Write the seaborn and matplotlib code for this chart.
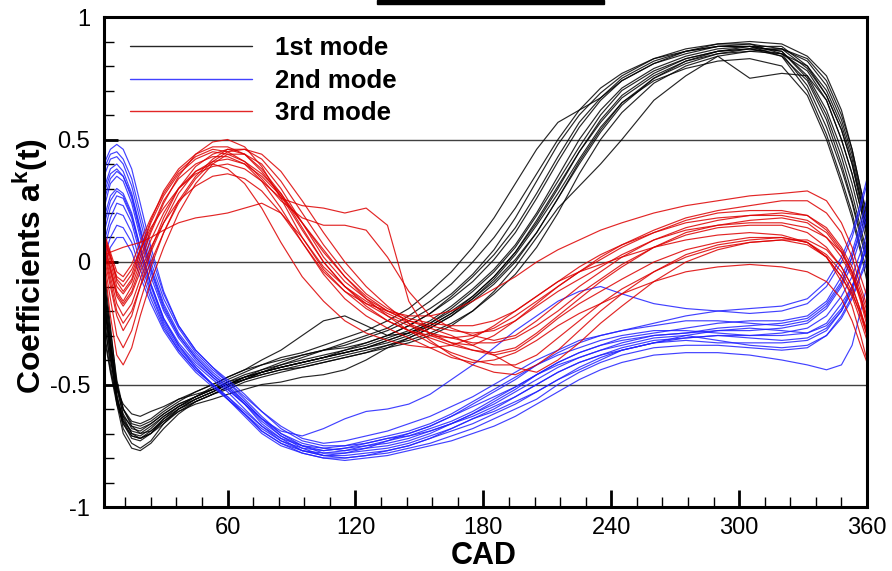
import numpy as np
import pandas as pd
import matplotlib
matplotlib.use('Agg')
import matplotlib.pyplot as plt
import seaborn as sns
from matplotlib.patches import Rectangle
from matplotlib.ticker import MultipleLocator, FixedLocator, FixedFormatter

# ------------------------------------------------------------
# Data - POD temporal coefficients
# ------------------------------------------------------------
cad = [2, 5, 8, 11, 15, 19, 24, 30, 37, 45, 53, 60, 68, 76, 85, 95, 105, 115, 125, 135,
       145, 155, 165, 175, 185, 195, 205, 215, 225, 235, 245, 260, 275, 290, 305, 320,
       332, 341, 348, 353, 357, 360]

mode_labels = ['1st mode', '2nd mode', '3rd mode']

mode1_cycles = [
    [-0.15, -0.35, -0.52, -0.62, -0.68, -0.69, -0.66, -0.62, -0.58, -0.55, -0.52, -0.49, -0.46, -0.44, -0.42, -0.40, -0.38, -0.36, -0.34, -0.31, -0.28, -0.24, -0.18, -0.11, -0.03, 0.07, 0.20, 0.35, 0.50, 0.62, 0.71, 0.79, 0.84, 0.87, 0.88, 0.86, 0.76, 0.62, 0.46, 0.32, 0.18, 0.08],
    [-0.05, -0.30, -0.55, -0.68, -0.74, -0.76, -0.73, -0.66, -0.60, -0.56, -0.53, -0.50, -0.47, -0.44, -0.41, -0.38, -0.36, -0.33, -0.30, -0.27, -0.22, -0.16, -0.09, 0.00, 0.10, 0.22, 0.36, 0.50, 0.62, 0.71, 0.77, 0.83, 0.86, 0.89, 0.89, 0.85, 0.72, 0.55, 0.38, 0.24, 0.10, 0.00],
    [-0.25, -0.40, -0.52, -0.58, -0.62, -0.63, -0.61, -0.59, -0.56, -0.54, -0.52, -0.50, -0.48, -0.46, -0.44, -0.42, -0.40, -0.38, -0.36, -0.34, -0.32, -0.29, -0.25, -0.20, -0.13, -0.05, 0.06, 0.20, 0.36, 0.50, 0.61, 0.73, 0.80, 0.84, 0.86, 0.87, 0.82, 0.72, 0.58, 0.44, 0.28, 0.16],
    [-0.20, -0.38, -0.55, -0.64, -0.70, -0.71, -0.68, -0.63, -0.59, -0.56, -0.53, -0.50, -0.48, -0.46, -0.44, -0.43, -0.41, -0.39, -0.37, -0.35, -0.33, -0.30, -0.26, -0.20, -0.12, -0.02, 0.10, 0.22, 0.31, 0.40, 0.50, 0.66, 0.76, 0.84, 0.75, 0.77, 0.76, 0.66, 0.50, 0.36, 0.22, 0.12],
    [-0.10, -0.32, -0.50, -0.60, -0.66, -0.67, -0.65, -0.61, -0.57, -0.53, -0.50, -0.47, -0.44, -0.40, -0.36, -0.30, -0.24, -0.22, -0.26, -0.30, -0.29, -0.26, -0.21, -0.14, -0.06, 0.04, 0.16, 0.30, 0.45, 0.58, 0.68, 0.77, 0.83, 0.86, 0.87, 0.84, 0.74, 0.58, 0.40, 0.25, 0.12, 0.02],
    [-0.30, -0.45, -0.58, -0.66, -0.71, -0.72, -0.70, -0.66, -0.61, -0.57, -0.54, -0.51, -0.48, -0.45, -0.42, -0.39, -0.36, -0.34, -0.31, -0.28, -0.24, -0.19, -0.13, -0.05, 0.05, 0.18, 0.33, 0.48, 0.60, 0.69, 0.76, 0.83, 0.87, 0.89, 0.90, 0.89, 0.84, 0.76, 0.62, 0.46, 0.30, 0.20],
    [-0.12, -0.36, -0.58, -0.70, -0.76, -0.77, -0.74, -0.68, -0.62, -0.57, -0.54, -0.51, -0.48, -0.45, -0.43, -0.41, -0.39, -0.37, -0.35, -0.32, -0.29, -0.25, -0.19, -0.12, -0.04, 0.06, 0.19, 0.33, 0.47, 0.60, 0.70, 0.78, 0.83, 0.86, 0.87, 0.85, 0.78, 0.66, 0.50, 0.36, 0.22, 0.10],
    [-0.18, -0.34, -0.50, -0.60, -0.65, -0.66, -0.64, -0.60, -0.56, -0.53, -0.50, -0.47, -0.44, -0.42, -0.39, -0.37, -0.34, -0.31, -0.28, -0.24, -0.19, -0.12, -0.04, 0.06, 0.18, 0.32, 0.46, 0.57, 0.62, 0.67, 0.74, 0.81, 0.85, 0.88, 0.88, 0.84, 0.70, 0.52, 0.34, 0.20, 0.06, -0.04],
    [-0.22, -0.42, -0.57, -0.65, -0.69, -0.70, -0.67, -0.63, -0.59, -0.55, -0.52, -0.49, -0.47, -0.45, -0.43, -0.41, -0.39, -0.37, -0.35, -0.33, -0.30, -0.26, -0.21, -0.15, -0.07, 0.03, 0.15, 0.28, 0.42, 0.55, 0.65, 0.74, 0.79, 0.82, 0.83, 0.80, 0.68, 0.50, 0.32, 0.18, 0.04, -0.08],
    [-0.08, -0.28, -0.48, -0.60, -0.67, -0.70, -0.69, -0.65, -0.61, -0.58, -0.56, -0.54, -0.52, -0.50, -0.49, -0.47, -0.46, -0.44, -0.40, -0.35, -0.31, -0.27, -0.22, -0.15, -0.08, 0.01, 0.12, 0.26, 0.40, 0.53, 0.64, 0.75, 0.82, 0.86, 0.88, 0.88, 0.80, 0.68, 0.54, 0.40, 0.26, 0.14],
    [-0.02, -0.26, -0.50, -0.63, -0.70, -0.72, -0.70, -0.65, -0.60, -0.56, -0.53, -0.50, -0.47, -0.45, -0.43, -0.41, -0.39, -0.36, -0.33, -0.30, -0.26, -0.21, -0.15, -0.08, 0.01, 0.12, 0.26, 0.41, 0.55, 0.66, 0.74, 0.81, 0.86, 0.88, 0.89, 0.87, 0.79, 0.68, 0.54, 0.40, 0.24, 0.12],
    [-0.28, -0.44, -0.56, -0.63, -0.67, -0.68, -0.66, -0.62, -0.58, -0.55, -0.52, -0.50, -0.47, -0.45, -0.43, -0.41, -0.39, -0.37, -0.35, -0.32, -0.29, -0.25, -0.20, -0.14, -0.06, 0.04, 0.17, 0.31, 0.45, 0.57, 0.67, 0.76, 0.82, 0.85, 0.86, 0.85, 0.80, 0.70, 0.56, 0.42, 0.26, 0.14],
    [-0.16, -0.38, -0.56, -0.66, -0.72, -0.73, -0.70, -0.64, -0.59, -0.55, -0.51, -0.48, -0.45, -0.42, -0.40, -0.38, -0.36, -0.35, -0.33, -0.30, -0.26, -0.21, -0.14, -0.06, 0.03, 0.14, 0.28, 0.43, 0.57, 0.67, 0.75, 0.82, 0.86, 0.88, 0.88, 0.86, 0.75, 0.60, 0.43, 0.28, 0.14, 0.04],
    [-0.10, -0.33, -0.54, -0.65, -0.71, -0.72, -0.69, -0.64, -0.60, -0.57, -0.54, -0.52, -0.49, -0.47, -0.45, -0.43, -0.41, -0.39, -0.37, -0.34, -0.31, -0.27, -0.22, -0.16, -0.09, 0.00, 0.12, 0.26, 0.41, 0.54, 0.65, 0.75, 0.81, 0.85, 0.87, 0.87, 0.83, 0.74, 0.60, 0.46, 0.30, 0.18],
]

mode2_cycles = [
    [0.40, 0.46, 0.48, 0.46, 0.38, 0.24, 0.06, -0.12, -0.26, -0.36, -0.43, -0.49, -0.56, -0.63, -0.70, -0.75, -0.78, -0.78, -0.77, -0.76, -0.74, -0.71, -0.68, -0.64, -0.60, -0.55, -0.50, -0.45, -0.41, -0.38, -0.35, -0.32, -0.31, -0.30, -0.30, -0.29, -0.27, -0.22, -0.14, -0.06, 0.04, 0.12],
    [0.30, 0.38, 0.40, 0.37, 0.28, 0.14, -0.02, -0.17, -0.29, -0.38, -0.45, -0.50, -0.57, -0.64, -0.71, -0.75, -0.77, -0.76, -0.75, -0.74, -0.72, -0.69, -0.66, -0.62, -0.57, -0.52, -0.46, -0.41, -0.37, -0.34, -0.31, -0.29, -0.27, -0.25, -0.24, -0.24, -0.22, -0.16, -0.06, 0.04, 0.16, 0.26],
    [0.22, 0.32, 0.35, 0.33, 0.24, 0.10, -0.06, -0.20, -0.31, -0.40, -0.47, -0.52, -0.58, -0.65, -0.71, -0.76, -0.79, -0.80, -0.79, -0.78, -0.76, -0.74, -0.71, -0.68, -0.64, -0.60, -0.56, -0.50, -0.45, -0.41, -0.38, -0.35, -0.34, -0.34, -0.35, -0.36, -0.35, -0.30, -0.22, -0.14, -0.05, 0.02],
    [0.12, 0.22, 0.27, 0.26, 0.18, 0.05, -0.10, -0.24, -0.34, -0.42, -0.48, -0.53, -0.60, -0.67, -0.73, -0.77, -0.79, -0.78, -0.76, -0.73, -0.70, -0.67, -0.63, -0.58, -0.53, -0.48, -0.42, -0.37, -0.33, -0.30, -0.28, -0.25, -0.22, -0.20, -0.19, -0.18, -0.15, -0.08, 0.02, 0.12, 0.24, 0.34],
    [0.05, 0.15, 0.20, 0.19, 0.12, 0.00, -0.13, -0.26, -0.36, -0.44, -0.50, -0.55, -0.61, -0.67, -0.72, -0.75, -0.76, -0.75, -0.73, -0.71, -0.69, -0.66, -0.62, -0.57, -0.52, -0.47, -0.42, -0.38, -0.35, -0.32, -0.30, -0.28, -0.28, -0.29, -0.30, -0.30, -0.29, -0.25, -0.17, -0.10, -0.01, 0.06],
    [0.18, 0.27, 0.30, 0.28, 0.20, 0.06, -0.09, -0.23, -0.33, -0.41, -0.47, -0.52, -0.58, -0.64, -0.69, -0.71, -0.68, -0.64, -0.61, -0.60, -0.58, -0.54, -0.48, -0.42, -0.35, -0.28, -0.22, -0.16, -0.12, -0.10, -0.13, -0.17, -0.19, -0.20, -0.21, -0.20, -0.17, -0.10, 0.00, 0.10, 0.22, 0.32],
    [0.08, 0.18, 0.24, 0.23, 0.16, 0.03, -0.12, -0.25, -0.35, -0.43, -0.50, -0.56, -0.63, -0.70, -0.75, -0.78, -0.80, -0.81, -0.80, -0.79, -0.77, -0.75, -0.73, -0.70, -0.67, -0.63, -0.58, -0.53, -0.48, -0.44, -0.41, -0.38, -0.37, -0.37, -0.38, -0.40, -0.42, -0.44, -0.42, -0.34, -0.20, -0.10],
    [-0.02, 0.06, 0.10, 0.10, 0.04, -0.06, -0.17, -0.28, -0.37, -0.45, -0.51, -0.56, -0.62, -0.68, -0.73, -0.76, -0.77, -0.76, -0.74, -0.72, -0.71, -0.69, -0.66, -0.63, -0.59, -0.55, -0.50, -0.45, -0.41, -0.38, -0.36, -0.33, -0.31, -0.30, -0.31, -0.32, -0.31, -0.27, -0.20, -0.12, -0.02, 0.08],
    [0.35, 0.42, 0.43, 0.40, 0.31, 0.17, 0.00, -0.15, -0.27, -0.37, -0.44, -0.49, -0.55, -0.61, -0.67, -0.72, -0.74, -0.73, -0.71, -0.69, -0.66, -0.63, -0.59, -0.55, -0.50, -0.45, -0.40, -0.36, -0.32, -0.30, -0.28, -0.26, -0.24, -0.24, -0.25, -0.26, -0.24, -0.18, -0.09, 0.02, 0.14, 0.22],
    [0.25, 0.34, 0.37, 0.35, 0.26, 0.12, -0.04, -0.19, -0.30, -0.39, -0.46, -0.51, -0.58, -0.66, -0.72, -0.77, -0.79, -0.79, -0.78, -0.77, -0.75, -0.72, -0.68, -0.64, -0.61, -0.57, -0.53, -0.48, -0.44, -0.40, -0.36, -0.33, -0.30, -0.28, -0.27, -0.28, -0.29, -0.26, -0.19, -0.10, 0.00, 0.05],
    [0.28, 0.36, 0.38, 0.35, 0.27, 0.13, -0.03, -0.18, -0.30, -0.39, -0.46, -0.51, -0.57, -0.64, -0.70, -0.74, -0.76, -0.77, -0.76, -0.75, -0.73, -0.70, -0.66, -0.62, -0.58, -0.53, -0.48, -0.43, -0.39, -0.36, -0.33, -0.30, -0.29, -0.28, -0.28, -0.27, -0.25, -0.19, -0.10, -0.01, 0.10, 0.18],
    [0.15, 0.25, 0.29, 0.27, 0.19, 0.06, -0.09, -0.23, -0.34, -0.43, -0.50, -0.55, -0.62, -0.69, -0.74, -0.78, -0.80, -0.80, -0.79, -0.77, -0.75, -0.72, -0.69, -0.66, -0.62, -0.58, -0.53, -0.48, -0.43, -0.39, -0.36, -0.33, -0.32, -0.33, -0.33, -0.33, -0.32, -0.28, -0.20, -0.11, 0.00, 0.10],
    [0.38, 0.44, 0.45, 0.42, 0.34, 0.20, 0.03, -0.13, -0.26, -0.36, -0.43, -0.48, -0.54, -0.61, -0.68, -0.73, -0.75, -0.75, -0.74, -0.72, -0.70, -0.67, -0.63, -0.59, -0.55, -0.51, -0.46, -0.41, -0.37, -0.34, -0.32, -0.30, -0.29, -0.27, -0.26, -0.25, -0.23, -0.17, -0.08, 0.02, 0.12, 0.20],
    [0.02, 0.10, 0.15, 0.14, 0.08, -0.03, -0.15, -0.27, -0.36, -0.44, -0.50, -0.56, -0.62, -0.69, -0.74, -0.77, -0.78, -0.77, -0.75, -0.73, -0.71, -0.68, -0.65, -0.61, -0.56, -0.51, -0.46, -0.42, -0.39, -0.36, -0.34, -0.31, -0.30, -0.32, -0.34, -0.35, -0.34, -0.30, -0.23, -0.15, -0.06, 0.00],
]

mode3_cycles = [
    [0.08, -0.02, -0.12, -0.16, -0.10, 0.00, 0.12, 0.24, 0.35, 0.44, 0.49, 0.50, 0.47, 0.39, 0.26, 0.10, -0.03, -0.12, -0.19, -0.24, -0.28, -0.31, -0.34, -0.36, -0.37, -0.35, -0.29, -0.22, -0.15, -0.08, -0.02, 0.06, 0.12, 0.15, 0.17, 0.18, 0.16, 0.10, 0.02, -0.06, -0.15, -0.24],
    [0.00, -0.22, -0.38, -0.42, -0.35, -0.22, -0.08, 0.06, 0.20, 0.32, 0.40, 0.44, 0.44, 0.40, 0.30, 0.16, 0.02, -0.08, -0.15, -0.20, -0.24, -0.27, -0.30, -0.34, -0.38, -0.43, -0.45, -0.40, -0.33, -0.25, -0.18, -0.08, 0.00, 0.05, 0.08, 0.09, 0.07, 0.02, -0.06, -0.14, -0.24, -0.32],
    [0.10, 0.02, -0.06, -0.08, -0.03, 0.05, 0.14, 0.22, 0.30, 0.36, 0.39, 0.40, 0.38, 0.33, 0.26, 0.23, 0.22, 0.20, 0.22, 0.15, -0.16, -0.30, -0.33, -0.34, -0.30, -0.24, -0.17, -0.10, -0.04, 0.02, 0.07, 0.13, 0.18, 0.21, 0.23, 0.25, 0.25, 0.20, 0.12, 0.02, -0.10, -0.18],
    [0.03, 0.04, 0.05, 0.06, 0.07, 0.08, 0.10, 0.13, 0.16, 0.18, 0.19, 0.20, 0.22, 0.24, 0.20, 0.10, -0.02, -0.10, -0.16, -0.21, -0.25, -0.29, -0.33, -0.36, -0.38, -0.36, -0.30, -0.23, -0.17, -0.12, -0.07, 0.00, 0.05, 0.08, 0.10, 0.10, 0.08, 0.03, -0.04, -0.12, -0.22, -0.30],
    [0.12, 0.04, -0.04, -0.06, -0.01, 0.08, 0.18, 0.28, 0.37, 0.43, 0.46, 0.45, 0.41, 0.34, 0.25, 0.18, 0.15, 0.15, 0.13, 0.02, -0.12, -0.22, -0.27, -0.30, -0.32, -0.30, -0.24, -0.17, -0.10, -0.04, 0.02, 0.09, 0.14, 0.17, 0.19, 0.20, 0.19, 0.14, 0.06, -0.02, -0.12, -0.20],
    [0.04, -0.08, -0.20, -0.25, -0.20, -0.10, 0.00, 0.12, 0.24, 0.34, 0.41, 0.45, 0.46, 0.44, 0.37, 0.25, 0.12, 0.00, -0.10, -0.18, -0.25, -0.32, -0.38, -0.42, -0.45, -0.46, -0.42, -0.36, -0.28, -0.20, -0.13, -0.04, 0.03, 0.07, 0.09, 0.10, 0.08, 0.02, -0.08, -0.18, -0.30, -0.40],
    [0.10, 0.00, -0.10, -0.13, -0.08, 0.02, 0.13, 0.25, 0.34, 0.40, 0.43, 0.43, 0.40, 0.33, 0.22, 0.08, -0.04, -0.12, -0.17, -0.20, -0.22, -0.22, -0.20, -0.16, -0.11, -0.06, 0.00, 0.05, 0.09, 0.13, 0.16, 0.20, 0.23, 0.25, 0.27, 0.28, 0.29, 0.25, 0.16, 0.06, -0.06, -0.14],
    [0.02, -0.10, -0.22, -0.28, -0.22, -0.10, 0.04, 0.16, 0.28, 0.37, 0.40, 0.38, 0.32, 0.22, 0.08, -0.06, -0.16, -0.24, -0.29, -0.32, -0.34, -0.35, -0.34, -0.31, -0.26, -0.20, -0.14, -0.08, -0.04, -0.01, 0.02, 0.06, 0.09, 0.11, 0.12, 0.11, 0.08, 0.02, -0.06, -0.13, -0.21, -0.28],
    [0.06, -0.04, -0.14, -0.18, -0.13, -0.04, 0.06, 0.16, 0.25, 0.31, 0.35, 0.36, 0.34, 0.29, 0.20, 0.08, -0.05, -0.15, -0.22, -0.27, -0.31, -0.35, -0.39, -0.41, -0.40, -0.37, -0.32, -0.26, -0.21, -0.17, -0.13, -0.08, -0.04, -0.02, -0.01, -0.02, -0.04, -0.08, -0.15, -0.24, -0.34, -0.41],
    [0.09, 0.02, -0.08, -0.12, -0.07, 0.04, 0.16, 0.27, 0.36, 0.42, 0.45, 0.44, 0.41, 0.36, 0.28, 0.16, 0.04, -0.06, -0.14, -0.20, -0.24, -0.26, -0.28, -0.29, -0.28, -0.24, -0.18, -0.12, -0.07, -0.02, 0.03, 0.09, 0.13, 0.15, 0.16, 0.16, 0.14, 0.10, 0.04, -0.04, -0.14, -0.24],
    [0.05, -0.06, -0.17, -0.22, -0.17, -0.07, 0.05, 0.18, 0.30, 0.39, 0.44, 0.46, 0.44, 0.38, 0.28, 0.14, 0.00, -0.10, -0.17, -0.22, -0.26, -0.29, -0.31, -0.33, -0.33, -0.31, -0.26, -0.20, -0.13, -0.07, -0.01, 0.06, 0.11, 0.14, 0.15, 0.15, 0.12, 0.06, -0.02, -0.10, -0.20, -0.28],
    [0.11, 0.03, -0.07, -0.10, -0.05, 0.05, 0.17, 0.29, 0.38, 0.44, 0.47, 0.47, 0.44, 0.37, 0.27, 0.13, 0.00, -0.10, -0.18, -0.24, -0.28, -0.30, -0.31, -0.30, -0.27, -0.22, -0.16, -0.10, -0.04, 0.01, 0.06, 0.12, 0.17, 0.20, 0.21, 0.21, 0.19, 0.13, 0.05, -0.04, -0.14, -0.22],
    [0.07, -0.03, -0.13, -0.17, -0.12, -0.02, 0.09, 0.20, 0.30, 0.37, 0.41, 0.42, 0.40, 0.35, 0.27, 0.16, 0.05, -0.06, -0.15, -0.22, -0.28, -0.33, -0.37, -0.40, -0.42, -0.42, -0.38, -0.31, -0.24, -0.17, -0.11, -0.04, 0.02, 0.06, 0.08, 0.09, 0.09, 0.05, -0.02, -0.10, -0.20, -0.30],
    [0.01, -0.15, -0.30, -0.35, -0.28, -0.16, -0.02, 0.12, 0.25, 0.35, 0.42, 0.46, 0.46, 0.42, 0.33, 0.20, 0.07, -0.04, -0.13, -0.19, -0.23, -0.25, -0.26, -0.26, -0.24, -0.20, -0.14, -0.08, -0.02, 0.03, 0.07, 0.12, 0.16, 0.18, 0.19, 0.19, 0.17, 0.12, 0.04, -0.05, -0.16, -0.26],
]

mode_colors = ['#000000', '#2020ff', '#dd0000']

# ------------------------------------------------------------
# Long-form table for seaborn
# ------------------------------------------------------------
rows = []
for label, cycles in zip(mode_labels, [mode1_cycles, mode2_cycles, mode3_cycles]):
    for i, vals in enumerate(cycles):
        assert len(vals) == len(cad), (label, i, len(vals))
        for x, v in zip(cad, vals):
            rows.append((x, v, label, f'{label}-{i}'))
df = pd.DataFrame(rows, columns=['CAD', 'coef', 'mode', 'cycle'])

# ------------------------------------------------------------
# Plot
# ------------------------------------------------------------
sns.set_style('white')
plt.rcParams['font.family'] = ['Liberation Sans', 'DejaVu Sans']
plt.rcParams['axes.unicode_minus'] = False
plt.rcParams['mathtext.fontset'] = 'custom'
plt.rcParams['mathtext.rm'] = 'Liberation Sans:bold'
for key in ['text.color', 'axes.labelcolor', 'xtick.color', 'ytick.color']:
    plt.rcParams[key] = 'black'

fig = plt.figure(figsize=(8.92, 5.71), dpi=100)
ax = fig.add_axes([104 / 892, 1 - 507 / 571, 763 / 892, 490 / 571])

for yv in [-0.5, 0, 0.5]:
    ax.axhline(yv, color='0.25', lw=1.0, zorder=0.5)

sns.lineplot(data=df, x='CAD', y='coef', hue='mode', units='cycle',
             estimator=None, sort=False, palette=mode_colors,
             hue_order=mode_labels, lw=0.85, alpha=0.85, ax=ax)

ax.set_xlim(2, 360)
ax.set_ylim(-1, 1)
ax.xaxis.set_major_locator(FixedLocator([60, 120, 180, 240, 300, 360]))
ax.xaxis.set_minor_locator(FixedLocator([v for v in range(12, 360, 12) if v % 60]))
ax.yaxis.set_major_locator(FixedLocator([-1, -0.5, 0, 0.5, 1]))
ax.yaxis.set_major_formatter(FixedFormatter(['-1', '-0.5', '0', '0.5', '1']))
ax.yaxis.set_minor_locator(MultipleLocator(0.1))
ax.tick_params(axis='x', which='major', direction='in', length=12, width=2,
               labelsize=17, pad=7, bottom=True, top=False, colors='black')
ax.tick_params(axis='x', which='minor', direction='in', length=7, width=1,
               bottom=True, top=False)
ax.tick_params(axis='y', which='major', direction='in', length=10, width=2,
               labelsize=17, pad=10, left=True, right=False, colors='black')
ax.tick_params(axis='y', which='minor', direction='in', length=7, width=1,
               left=True, right=False)
for s in ax.spines.values():
    s.set_linewidth(2.2)
    s.set_color('black')
ax.set_xlabel('')
ax.set_ylabel('')

fig.text(484 / 892, 1 - 556 / 571, 'CAD', fontsize=22, fontweight='bold',
         ha='center', va='center')
fig.text(30 / 892, 1 - 266 / 571, 'Coefficients a$^{\\mathrm{k}}$(t)', fontsize=23,
         fontweight='bold', rotation=90, ha='center', va='center')

handles, labels = ax.get_legend_handles_labels()
leg = ax.legend(handles, labels, loc='upper left', frameon=False,
                bbox_to_anchor=(130 / 892, 1 - 36 / 571), bbox_transform=fig.transFigure,
                prop={'weight': 'bold', 'size': 18.5}, handlelength=4.75,
                handletextpad=0.9, labelspacing=0.34, borderpad=0, borderaxespad=0)
for line in leg.get_lines():
    line.set_linewidth(1.0)

# cropped title bar at the top edge
fig.patches.append(Rectangle((377 / 892, 1 - 4 / 571), 227 / 892, 4 / 571,
                             transform=fig.transFigure, color='black', figure=fig))

fig.savefig('out.png', dpi=100)
